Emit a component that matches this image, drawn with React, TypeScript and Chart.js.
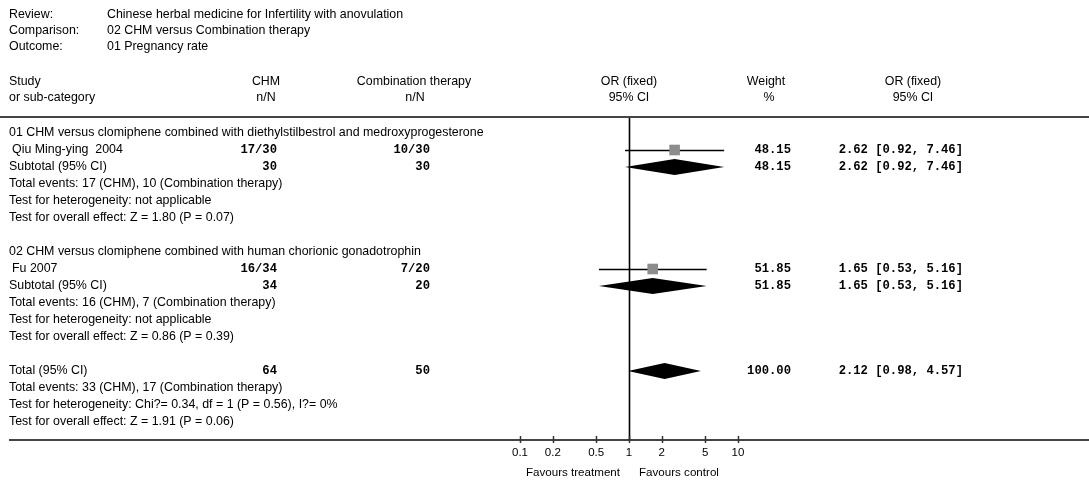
import React, { useEffect, useRef } from "react";
import { Chart, registerables } from "chart.js";

Chart.register(...registerables);

// ---------- data ----------
const headerLabels = ["Review:", "Comparison:", "Outcome:"];
const headerValues = [
  "Chinese herbal medicine for Infertility with anovulation",
  "02 CHM versus Combination therapy",
  "01 Pregnancy rate",
];

const rowText = [
  "01 CHM versus clomiphene combined with diethylstilbestrol and medroxyprogesterone",
  " Qiu Ming-ying  2004",
  "Subtotal (95% CI)",
  "Total events: 17 (CHM), 10 (Combination therapy)",
  "Test for heterogeneity: not applicable",
  "Test for overall effect: Z = 1.80 (P = 0.07)",
  "",
  "02 CHM versus clomiphene combined with human chorionic gonadotrophin",
  " Fu 2007",
  "Subtotal (95% CI)",
  "Total events: 16 (CHM), 7 (Combination therapy)",
  "Test for heterogeneity: not applicable",
  "Test for overall effect: Z = 0.86 (P = 0.39)",
  "",
  "Total (95% CI)",
  "Total events: 33 (CHM), 17 (Combination therapy)",
  "Test for heterogeneity: Chi?= 0.34, df = 1 (P = 0.56), I?= 0%",
  "Test for overall effect: Z = 1.91 (P = 0.06)",
];

// individual studies
const studyRows = [1, 8];
const studyCHM = ["17/30", "16/34"];
const studyComb = ["10/30", "7/20"];
const studyOR = [2.62, 1.65];
const studyLo = [0.92, 0.53];
const studyHi = [7.46, 5.16];
const studyWeight = ["48.15", "51.85"];

// pooled estimates (subtotals and total)
const pooledRows = [2, 9, 14];
const pooledCHM = ["30", "34", "64"];
const pooledComb = ["30", "20", "50"];
const pooledOR = [2.62, 1.65, 2.12];
const pooledLo = [0.92, 0.53, 0.98];
const pooledHi = [7.46, 5.16, 4.57];
const pooledWeight = ["48.15", "51.85", "100.00"];

const tickValues = [0.1, 0.2, 0.5, 1, 2, 5, 10];

// ---------- helpers ----------
const fmt = (v: number) => v.toFixed(2);
const ciText = (o: number, l: number, h: number) => `${fmt(o)} [${fmt(l)}, ${fmt(h)}]`;

const FAMILY = '"Liberation Sans", Arial, sans-serif';
const SANS = `12.4px ${FAMILY}`;
const SMALL = `11.6px ${FAMILY}`;
const MONO = 'bold 12.2px "Liberation Mono", "Courier New", monospace';
const TEXT = "#000";

const forestPlugin = {
  id: "forest",
  beforeDatasetsDraw(chart: any) {
    const ctx = chart.ctx;
    const xs = chart.scales.x;
    const ys = chart.scales.y;
    ctx.save();
    // line of no effect
    const x1 = Math.round(xs.getPixelForValue(1)) + 0.5;
    ctx.strokeStyle = "#000";
    ctx.lineWidth = 1.6;
    ctx.beginPath();
    ctx.moveTo(x1, chart.chartArea.top);
    ctx.lineTo(x1, chart.chartArea.bottom);
    ctx.stroke();
    // confidence intervals
    ctx.lineWidth = 1.3;
    studyRows.forEach((r, i) => {
      const y = Math.round(ys.getPixelForValue(r)) + 0.5;
      ctx.beginPath();
      ctx.moveTo(xs.getPixelForValue(studyLo[i]), y);
      ctx.lineTo(xs.getPixelForValue(studyHi[i]), y);
      ctx.stroke();
    });
    // diamonds
    ctx.fillStyle = "#000";
    pooledRows.forEach((r, i) => {
      const y = ys.getPixelForValue(r);
      const h = 8;
      ctx.beginPath();
      ctx.moveTo(xs.getPixelForValue(pooledLo[i]), y);
      ctx.lineTo(xs.getPixelForValue(pooledOR[i]), y - h);
      ctx.lineTo(xs.getPixelForValue(pooledHi[i]), y);
      ctx.lineTo(xs.getPixelForValue(pooledOR[i]), y + h);
      ctx.closePath();
      ctx.fill();
    });
    // tick marks crossing the axis line
    ctx.strokeStyle = "#333";
    ctx.lineWidth = 1.5;
    const yb = chart.chartArea.bottom;
    xs.ticks.forEach((t: any) => {
      const px = Math.round(xs.getPixelForValue(t.value)) + 0.5;
      ctx.beginPath();
      ctx.moveTo(px, yb - 4);
      ctx.lineTo(px, yb + 3);
      ctx.stroke();
    });
    ctx.restore();
  },
  afterDraw(chart: any) {
    const ctx = chart.ctx;
    const xs = chart.scales.x;
    const ys = chart.scales.y;
    const W = chart.width;
    ctx.save();
    ctx.fillStyle = TEXT;
    ctx.textBaseline = "middle";
    ctx.font = SANS;

    // review header
    const headY = [15, 31, 47];
    headerLabels.forEach((t, i) => {
      ctx.textAlign = "left";
      ctx.fillText(t, 9, headY[i]);
      ctx.fillText(headerValues[i], 107, headY[i]);
    });

    // column headers
    const c1 = 82, c2 = 98;
    ctx.textAlign = "left";
    ctx.fillText("Study", 9, c1);
    ctx.fillText("or sub-category", 9, c2);
    ctx.textAlign = "center";
    ctx.fillText("CHM", 266, c1);
    ctx.fillText("n/N", 266, c2);
    ctx.fillText("Combination therapy", 414, c1);
    ctx.fillText("n/N", 415, c2);
    const x1 = xs.getPixelForValue(1);
    ctx.fillText("OR (fixed)", x1, c1);
    ctx.fillText("95% CI", x1, c2);
    ctx.fillText("Weight", 766, c1);
    ctx.fillText("%", 769, c2);
    ctx.fillText("OR (fixed)", 913, c1);
    ctx.fillText("95% CI", 913, c2);

    // header rule
    ctx.strokeStyle = "#444";
    ctx.lineWidth = 2;
    ctx.beginPath();
    ctx.moveTo(0, chart.chartArea.top);
    ctx.lineTo(W, chart.chartArea.top);
    ctx.stroke();

    // row labels
    ctx.textAlign = "left";
    rowText.forEach((t, r) => {
      if (!t) return;
      const y = ys.getPixelForValue(r);
      const isStudy = studyRows.includes(r);
      ctx.fillText(isStudy ? t.trim() : t, isStudy ? 12 : 9, y);
    });

    // numeric columns
    ctx.font = MONO;
    ctx.textAlign = "right";
    studyRows.forEach((r, i) => {
      const y = ys.getPixelForValue(r);
      ctx.fillText(studyCHM[i], 277, y);
      ctx.fillText(studyComb[i], 430, y);
      ctx.fillText(studyWeight[i], 791, y);
      ctx.fillText(ciText(studyOR[i], studyLo[i], studyHi[i]), 963, y);
    });
    pooledRows.forEach((r, i) => {
      const y = ys.getPixelForValue(r);
      ctx.fillText(pooledCHM[i], 277, y);
      ctx.fillText(pooledComb[i], 430, y);
      ctx.fillText(pooledWeight[i], 791, y);
      ctx.fillText(ciText(pooledOR[i], pooledLo[i], pooledHi[i]), 963, y);
    });

    // favours labels
    ctx.font = SMALL;
    ctx.textAlign = "right";
    ctx.fillText("Favours treatment", x1 - 9, 473);
    ctx.textAlign = "left";
    ctx.fillText("Favours control", x1 + 10, 473);
    ctx.restore();
  },
};

export default function App() {
  const ref = useRef<HTMLCanvasElement | null>(null);
  useEffect(() => {
    if (!ref.current) return;
    const left = 10;
    const plotW = 1089 - left;
    const pxPerDecade = 109;
    const zeroPx = 520 - left; // pixel of 0.1 inside plot
    const logMin = -1 - zeroPx / pxPerDecade;
    const logMax = logMin + plotW / pxPerDecade;
    const rowPx = 17;
    const yMin = -16 / rowPx;
    const yMax = yMin + (440 - 117) / rowPx;

    const chart = new Chart(ref.current, {
      type: "scatter",
      data: {
        datasets: [
          {
            data: studyOR.map((v, i) => ({ x: v, y: studyRows[i] })),
            pointStyle: "rect",
            pointRadius: 7.5,
            pointHoverRadius: 7.5,
            backgroundColor: "#8c8c8c",
            borderColor: "#8c8c8c",
            borderWidth: 0,
          },
        ],
      },
      options: {
        responsive: false,
        animation: false,
        events: [],
        layout: { autoPadding: false, padding: { left, right: 0, top: 117, bottom: 0 } },
        plugins: { legend: { display: false }, tooltip: { enabled: false } },
        scales: {
          x: {
            type: "logarithmic",
            min: Math.pow(10, logMin),
            max: Math.pow(10, logMax),
            afterBuildTicks: (s: any) => {
              s.ticks = tickValues.map((v) => ({ value: v }));
            },
            afterFit: (s: any) => {
              s.height = 43;
            },
            ticks: {
              autoSkip: false,
              maxRotation: 0,
              padding: 6,
              color: TEXT,
              font: { family: FAMILY, size: 11.5 },
              callback: (v: any) => String(v),
            },
            grid: { display: true, drawOnChartArea: false, drawTicks: false, color: "#333" },
            border: { display: true, color: "#444", width: 2 },
          },
          y: {
            type: "linear",
            display: false,
            reverse: true,
            min: yMin,
            max: yMax,
          },
        },
      },
      plugins: [forestPlugin],
    } as any);
    return () => chart.destroy();
  }, []);
  return (
    <div style={{ position: "fixed", left: 0, top: 0, width: 1089, height: 483, background: "#fff" }}>
      <canvas ref={ref} width={1089} height={483} style={{ display: "block" }} />
    </div>
  );
}
